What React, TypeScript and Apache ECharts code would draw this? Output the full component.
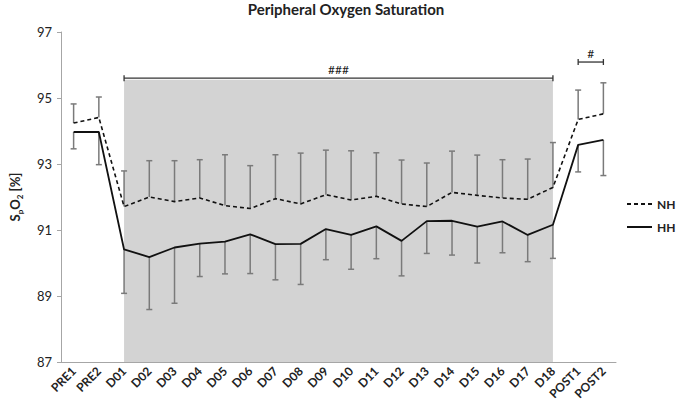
import React, { useEffect, useRef } from "react";
import * as echarts from "echarts";

const categories = [
  "PRE1", "PRE2", "D01", "D02", "D03", "D04", "D05", "D06", "D07", "D08", "D09",
  "D10", "D11", "D12", "D13", "D14", "D15", "D16", "D17", "D18", "POST1", "POST2",
];

const nhMean = [
  94.24, 94.41, 91.71, 92.0, 91.86, 91.97, 91.74, 91.65, 91.95, 91.79, 92.07,
  91.91, 92.02, 91.79, 91.71, 92.14, 92.05, 91.97, 91.93, 92.29, 94.35, 94.52,
];
const nhUpper = [
  94.82, 95.03, 92.79, 93.1, 93.1, 93.13, 93.28, 92.95, 93.28, 93.33, 93.42,
  93.4, 93.34, 93.12, 93.03, 93.39, 93.27, 93.13, 93.15, 93.65, 95.24, 95.46,
];
const hhMean = [
  93.97, 93.97, 90.41, 90.18, 90.47, 90.59, 90.65, 90.87, 90.57, 90.58, 91.03,
  90.85, 91.11, 90.67, 91.27, 91.28, 91.1, 91.26, 90.85, 91.16, 93.58, 93.73,
];
const hhLower = [
  93.46, 92.98, 89.08, 88.59, 88.78, 89.59, 89.67, 89.68, 89.49, 89.35, 90.1,
  89.81, 90.13, 89.61, 90.29, 90.24, 90.0, 90.31, 90.04, 90.14, 92.76, 92.65,
];

const yTicks = [87, 89, 91, 93, 95, 97];

const shadedRange = { from: "D01", to: "D18", bottom: 87, top: 95.55 };

const brackets = [
  { from: "D01", to: "D18", y: 95.6, label: "###" },
  { from: "POST1", to: "POST2", y: 96.09, label: "#" },
];

const FONT = "Lato, 'Open Sans', sans-serif";

function errorBarItem(params: any, api: any) {
  const x = api.value(0);
  const p1 = api.coord([x, api.value(1)]);
  const p2 = api.coord([x, api.value(2)]);
  const half = 3;
  const style = { stroke: "#7a7a7a", lineWidth: 1.5 };
  return {
    type: "group",
    children: [
      { type: "line", shape: { x1: p1[0], y1: p1[1], x2: p2[0], y2: p2[1] }, style },
      { type: "line", shape: { x1: p2[0] - half, y1: p2[1], x2: p2[0] + half, y2: p2[1] }, style },
    ],
  };
}

function bracketItem(params: any, api: any) {
  const a = api.coord([api.value(0), api.value(2)]);
  const b = api.coord([api.value(1), api.value(2)]);
  const label = brackets[params.dataIndex].label;
  const style = { stroke: "#333", lineWidth: 1.3 };
  return {
    type: "group",
    children: [
      { type: "line", shape: { x1: a[0], y1: a[1], x2: b[0], y2: b[1] }, style },
      { type: "line", shape: { x1: a[0], y1: a[1] - 3, x2: a[0], y2: a[1] + 3 }, style },
      { type: "line", shape: { x1: b[0], y1: b[1] - 3, x2: b[0], y2: b[1] + 3 }, style },
      {
        type: "text",
        x: (a[0] + b[0]) / 2,
        y: a[1] - 3,
        style: {
          text: label,
          fill: "#222",
          font: `12px ${FONT}`,
          align: "center",
          verticalAlign: "bottom",
        },
      },
    ],
  };
}

export default function App() {
  const ref = useRef<HTMLDivElement>(null);

  useEffect(() => {
    if (!ref.current) return;
    const chart = echarts.init(ref.current, null, { renderer: "svg" });
    const idx = (c: string) => categories.indexOf(c);

    chart.setOption({
      animation: false,
      backgroundColor: "#ffffff",
      title: {
        text: "Peripheral Oxygen Saturation",
        left: 341,
        textAlign: "center",
        top: -4,
        textStyle: { fontFamily: FONT, fontWeight: "bold", fontSize: 15, color: "#222" },
      },
      legend: {
        orient: "vertical",
        left: 626,
        top: 198,
        padding: 0,
        itemWidth: 25,
        itemHeight: 14,
        itemGap: 11,
        data: ["NH", "HH"],
        itemStyle: { opacity: 0 },
        textStyle: { fontFamily: FONT, fontWeight: "bold", fontSize: 12, color: "#222" },
      },
      grid: { left: 49, right: 64, top: 32, bottom: 47 },
      xAxis: {
        type: "category",
        data: categories,
        boundaryGap: true,
        axisLine: { lineStyle: { color: "#a6a6a6", width: 1 } },
        axisTick: { alignWithLabel: false, length: 4, lineStyle: { color: "#a6a6a6" } },
        axisLabel: {
          interval: 0,
          rotate: 45,
          margin: 7,
          fontFamily: FONT,
          fontWeight: "bold",
          fontSize: 12,
          color: "#222",
        },
        splitLine: { show: false },
      },
      yAxis: {
        type: "value",
        min: yTicks[0],
        max: yTicks[yTicks.length - 1],
        interval: 2,
        axisLine: { show: true, lineStyle: { color: "#a6a6a6", width: 1 } },
        axisTick: { show: true, length: 4, lineStyle: { color: "#a6a6a6" } },
        axisLabel: { fontFamily: FONT, fontSize: 13, color: "#222", margin: 9 },
        splitLine: { show: false },
        name: "{a|S}{s|p}{a|O}{s|2}{a| [%]}",
        nameLocation: "middle",
        nameGap: 40,
        nameRotate: 90,
        nameTextStyle: {
          rich: {
            a: { fontFamily: FONT, fontWeight: "bold", fontSize: 13, color: "#222", verticalAlign: "bottom" },
            s: { fontFamily: FONT, fontWeight: "bold", fontSize: 8, color: "#222", verticalAlign: "bottom", padding: [0, 0, -3, 0] },
          },
        },
      },
      series: [
        {
          name: "shade",
          type: "line",
          data: [],
          silent: true,
          z: 0,
          markArea: {
            silent: true,
            itemStyle: { color: "#d3d3d3" },
            data: [
              [
                { xAxis: shadedRange.from, yAxis: shadedRange.bottom },
                { xAxis: shadedRange.to, yAxis: shadedRange.top },
              ],
            ],
          },
        },
        {
          name: "nhErr",
          type: "custom",
          renderItem: errorBarItem,
          data: categories.map((_, i) => [i, nhMean[i], nhUpper[i]]),
          encode: { x: 0, y: [1, 2] },
          z: 2,
          silent: true,
        },
        {
          name: "hhErr",
          type: "custom",
          renderItem: errorBarItem,
          data: categories.map((_, i) => [i, hhMean[i], hhLower[i]]),
          encode: { x: 0, y: [1, 2] },
          z: 2,
          silent: true,
        },
        {
          name: "NH",
          type: "line",
          data: nhMean,
          symbol: "none",
          showSymbol: false,
          z: 3,
          lineStyle: { color: "#111", width: 1.6, type: [4, 3] },
          itemStyle: { color: "#111" },
        },
        {
          name: "HH",
          type: "line",
          data: hhMean,
          symbol: "none",
          showSymbol: false,
          z: 3,
          lineStyle: { color: "#111", width: 1.8, type: "solid" },
          itemStyle: { color: "#111" },
        },
        {
          name: "brackets",
          type: "custom",
          renderItem: bracketItem,
          data: brackets.map((b) => [idx(b.from), idx(b.to), b.y]),
          encode: { x: [0, 1], y: 2 },
          z: 4,
          silent: true,
        },
      ],
    });

    return () => chart.dispose();
  }, []);

  return (
    <div
      ref={ref}
      style={{ position: "fixed", left: 0, top: 0, width: 680, height: 409 }}
    />
  );
}
